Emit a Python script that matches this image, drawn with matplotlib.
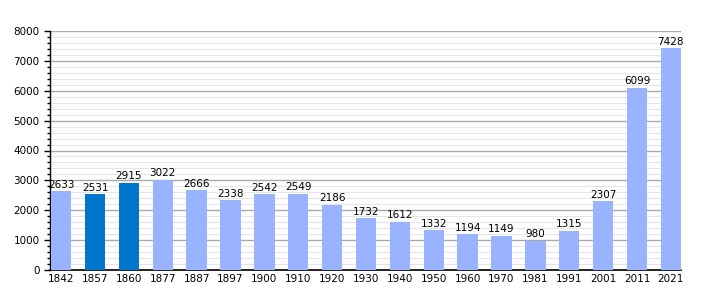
import numpy as np
import matplotlib
matplotlib.use("Agg")
import matplotlib.pyplot as plt
from matplotlib.ticker import MultipleLocator

# data
years = ["1842", "1857", "1860", "1877", "1887", "1897", "1900", "1910", "1920", "1930",
         "1940", "1950", "1960", "1970", "1981", "1991", "2001", "2011", "2021"]
population = [2633, 2531, 2915, 3022, 2666, 2338, 2542, 2549, 2186, 1732,
              1612, 1332, 1194, 1149, 980, 1315, 2307, 6099, 7428]
highlight = ["1857", "1860"]

colors = ["#0077cc" if y in highlight else "#99b3ff" for y in years]

fig = plt.figure(figsize=(7.1, 3.0), dpi=100)
ax = fig.add_axes([50 / 710, 30 / 300, 631 / 710, 239 / 300])

x = np.arange(len(years))
ax.bar(x, population, width=0.6, color=colors, zorder=3)

for xi, v in zip(x, population):
    ax.text(xi, v + 50, str(v), ha="center", va="bottom", fontsize=7.5, zorder=4)

ax.set_xlim(-0.33, len(years) - 0.7)
ax.set_ylim(0, 8000)
ax.set_xticks(x)
ax.set_xticklabels(years, fontsize=7.5)
ax.yaxis.set_major_locator(MultipleLocator(1000))
ax.yaxis.set_minor_locator(MultipleLocator(200))
ax.tick_params(axis="y", labelsize=7.5, length=4, width=1)
ax.tick_params(axis="y", which="minor", length=2, width=1)
ax.tick_params(axis="x", length=0, pad=3)

ax.grid(axis="y", which="major", color="#aaaaaa", linewidth=1, zorder=0)
ax.grid(axis="y", which="minor", color="#e6e6e6", linewidth=0.8, zorder=0)

for s in ["top", "right"]:
    ax.spines[s].set_visible(False)
ax.spines["left"].set_linewidth(1)
ax.spines["bottom"].set_linewidth(1.2)

fig.savefig("out.png", dpi=100)
